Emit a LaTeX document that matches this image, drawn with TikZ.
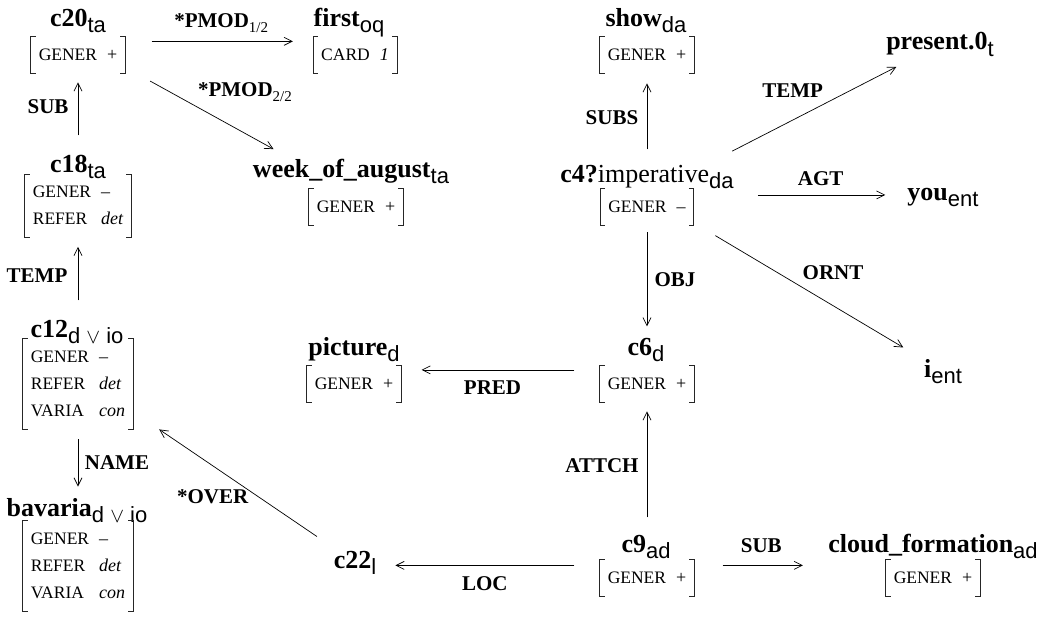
\documentclass[tikz,border=0pt]{standalone}
\usepackage{fontspec}
\setmainfont{Liberation Serif}
\newfontfamily\subfont{Liberation Sans}
\usetikzlibrary{arrows.meta,fit}

% concept name with sans-serif layer subscript
\newcommand\sbs[1]{\raisebox{-6pt}{\fontsize{22}{22}\selectfont\subfont #1}}
\newcommand\cname[2]{\fontsize{26}{26}\selectfont\textbf{#1}\sbs{#2}}
% feature structures
\newcommand\feat[1]{{\fontsize{17.5}{17.5}\selectfont #1}}
\newcommand\fstr[1]{\fontsize{18}{27}\selectfont\begin{tabular}{@{}l@{\hspace{10pt}}l@{}}#1\end{tabular}}
% relation label subscript
\newcommand\lsub[1]{\raisebox{-5pt}{\fontsize{15}{15}\selectfont\mdseries #1}}

\tikzset{
  head/.style={inner sep=0pt, anchor=base},
  avm/.style={inner xsep=8pt, inner ysep=4.5pt, anchor=center},
  grp/.style={inner sep=0pt, draw=none},
  brk/.style={line width=0.8pt, black!85},
  rel/.style={line width=0.7pt, -{Straight Barb[length=8pt,width=8pt]}},
  lab/.style={font=\fontsize{21}{21}\selectfont\bfseries, inner sep=0pt, midway, anchor=center}
}
% square brackets around a feature structure
\newcommand\brackets[1]{%
  \draw[brk] ([xshift=5pt]#1.north west) -- (#1.north west) -- (#1.south west) -- ([xshift=5pt]#1.south west);
  \draw[brk] ([xshift=-5pt]#1.north east) -- (#1.north east) -- (#1.south east) -- ([xshift=-5pt]#1.south east);}

\begin{document}
\begin{tikzpicture}[x=1pt,y=-1pt]
\useasboundingbox (0,0) rectangle (1053,618);

% ---- left column
\node[head] (c20t) at (78,27) {\cname{c20}{ta}};
\node[avm] (c20b) at (78,55) {\fstr{\feat{GENER} & +}};
\brackets{c20b}
\node[grp, fit=(c20t)(c20b)] (c20) {};

\node[head] (c18t) at (78,172) {\cname{c18}{ta}};
\node[avm] (c18b) at (78,206) {\fstr{\feat{GENER} & –\\ \feat{REFER} & \itshape det}};
\brackets{c18b}
\node[grp, fit=(c18t)(c18b)] (c18) {};

\node[head] (c12t) at (77,337) {\cname{c12}{d $\vee$ io}};
\node[avm] (c12b) at (78,384) {\fstr{\feat{GENER} & –\\ \feat{REFER} & \itshape det\\ \feat{VARIA} & \itshape con}};
\brackets{c12b}
\node[grp, fit=(c12t)(c12b)] (c12) {};

\node[head] (bavt) at (77,516) {\cname{bavaria}{d $\vee$ io}};
\node[avm] (bavb) at (78,566) {\fstr{\feat{GENER} & –\\ \feat{REFER} & \itshape det\\ \feat{VARIA} & \itshape con}};
\brackets{bavb}
\node[grp, fit=(bavt)(bavb)] (bav) {};

% ---- middle column
\node[head] (firstt) at (349,27) {\cname{first}{oq}};
\node[avm] (firstb) at (355,55) {\fstr{\feat{CARD} & \itshape 1}};
\brackets{firstb}
\node[grp, fit=(firstt)(firstb)] (first) {};

\node[head] (weekt) at (351,177) {\cname{week\_of\_august}{ta}};
\node[avm] (weekb) at (356,207) {\fstr{\feat{GENER} & +}};
\brackets{weekb}
\node[grp, fit=(weekt)(weekb)] (week) {};

\node[head] (pict) at (354,355) {\cname{picture}{d}};
\node[avm] (picb) at (354,384) {\fstr{\feat{GENER} & +}};
\brackets{picb}
\node[grp, fit=(pict)(picb)] (pic) {};

\node[head] (c22) at (355,568) {\cname{c22}{l}};

% ---- right part
\node[head] (showt) at (646,27) {\cname{show}{da}};
\node[avm] (showb) at (647,55) {\fstr{\feat{GENER} & +}};
\brackets{showb}
\node[grp, fit=(showt)(showb)] (show) {};

\node[head] (c4t) at (647,182) {\fontsize{26}{26}\selectfont\textbf{c4?}imperative\sbs{da}};
\node[avm] (c4b) at (647,207) {\fstr{\feat{GENER} & –}};
\brackets{c4b}
\node[grp, fit=(c4t)(c4b)] (c4) {};

\node[head] (present) at (940,50) {\cname{present.0}{t}};
\node[head] (you) at (943,200) {\cname{you}{ent}};
\node[head] (i) at (943,377) {\cname{i}{ent}};

\node[head] (c6t) at (646,355) {\cname{c6}{d}};
\node[avm] (c6b) at (647,384) {\fstr{\feat{GENER} & +}};
\brackets{c6b}
\node[grp, fit=(c6t)(c6b)] (c6) {};

\node[head] (c9t) at (646,552) {\cname{c9}{ad}};
\node[avm] (c9b) at (647,578) {\fstr{\feat{GENER} & +}};
\brackets{c9b}
\node[grp, fit=(c9t)(c9b)] (c9) {};

\node[head] (cloudt) at (933,552) {\cname{cloud\_formation}{ad}};
\node[avm] (cloudb) at (933,578) {\fstr{\feat{GENER} & +}};
\brackets{cloudb}
\node[grp, fit=(cloudt)(cloudb)] (cloud) {};

% ---- relations
\draw[rel, shorten <=26pt, shorten >=20pt] (c20.east) -- (c20.east -| first.west)
  node[lab, xshift=2pt, yshift=18pt] {*PMOD\lsub{1/2}};
\draw[rel, shorten <=28pt, shorten >=19pt] (c20) -- (week)
  node[lab, xshift=37pt, yshift=21pt] {*PMOD\lsub{2/2}};
\draw[rel, shorten <=19pt, shorten >=9pt] (c18.north) -- (c18.north |- c20.south)
  node[lab, xshift=-30pt, yshift=7pt] {SUB};
\draw[rel, shorten <=19pt, shorten >=9pt] (c12.north) -- (c12.north |- c18.south)
  node[lab, xshift=-41pt, yshift=3pt] {TEMP};
\draw[rel, shorten <=10pt, shorten >=11pt] (c12.south) -- (c12.south |- bav.north)
  node[lab, xshift=39pt, yshift=1pt] {NAME};
\draw[rel, shorten <=25pt, shorten >=31pt] (c22) -- (c12)
  node[lab, xshift=-23pt, yshift=-15pt] {*OVER};
\draw[rel, shorten <=25pt, shorten >=19pt] (c9.west) -- (c9.west -| c22.east)
  node[lab, xshift=-3pt, yshift=-18pt] {LOC};
\draw[rel, shorten <=28pt, shorten >=25pt] (c9.east) -- (c9.east -| cloud.west)
  node[lab, yshift=20pt] {SUB};
\draw[rel, shorten <=17pt, shorten >=9pt] (c9.north) -- (c9.north |- c6.south)
  node[lab, xshift=-45pt, yshift=3pt] {ATTCH};
\draw[rel, shorten <=25pt, shorten >=20pt] (c6.west) -- (c6.west -| pic.east)
  node[lab, xshift=-8pt, yshift=-18pt] {PRED};
\draw[rel, shorten <=7pt, shorten >=11pt] (c4.south) -- (c4.south |- c6.north)
  node[lab, xshift=28pt, yshift=2pt] {OBJ};
\draw[rel, shorten <=15pt, shorten >=10pt] (c4.north) -- (c4.north |- show.south)
  node[lab, xshift=-35pt, yshift=1pt] {SUBS};
\draw[rel, shorten <=29pt, shorten >=23pt] (c4) -- (present)
  node[lab, xshift=-19pt, yshift=20pt] {TEMP};
\draw[rel, shorten <=24pt, shorten >=22pt] (c4.east) -- (c4.east -| you.west)
  node[lab, yshift=16pt] {AGT};
\draw[rel, shorten <=20pt, shorten >=24pt] (c4) -- (i)
  node[lab, xshift=22pt, yshift=20pt] {ORNT};
\end{tikzpicture}
\end{document}
